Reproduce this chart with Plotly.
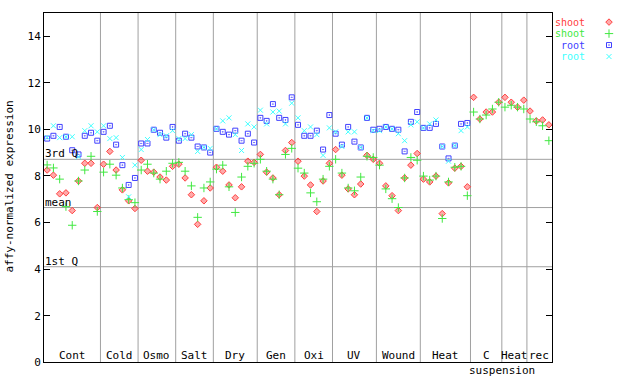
import plotly.graph_objects as go

groups = ["Cont", "Cold", "Osmo", "Salt", "Dry", "Gen", "Oxi", "UV", "Wound", "Heat", "C", "Heat", "rec"]
group_sizes = [9, 6, 6, 6, 7, 6, 6, 7, 7, 8, 5, 4, 4]

shoot_a = [8.25, 8.03, 7.23, 7.27, 6.51, 7.78, 8.54, 8.54, 6.64,
           8.50, 9.05, 8.25, 7.40, 6.93, 6.60,
           8.67, 8.20, 8.16, 7.95, 7.82, 8.41,
           8.50, 7.91, 7.19, 5.92, 6.93, 7.48,
           8.37, 8.20, 7.61, 7.06, 7.53, 8.63, 8.58,
           8.92, 8.16, 7.91, 7.19, 9.09, 9.43,
           8.63, 7.99, 7.61, 6.47, 7.78, 8.54,
           9.13, 8.03, 7.44, 7.19, 7.65, 8.88, 8.71,
           8.54, 7.57, 7.15, 6.51, 7.91, 8.46, 8.96,
           7.86, 7.74, 7.99, 6.38, 7.70, 8.33, 8.41, 7.53,
           11.37, 10.44, 10.74, 10.74, 11.16,
           11.37, 11.16, 10.95, 11.25,
           10.78, 10.36, 10.40, 10.19]

shoot_b = [8.47, 8.34, 7.86, 6.68, 5.88, 7.78, 8.25, 8.84, 6.47,
           8.16, 8.50, 8.03, 7.48, 6.98, 6.85,
           8.25, 8.50, 8.12, 7.86, 8.20, 8.54,
           8.58, 8.20, 7.57, 6.22, 7.48, 7.74,
           8.29, 8.46, 7.53, 6.43, 7.95, 8.41, 8.54,
           8.71, 8.20, 7.86, 7.19, 8.92, 9.18,
           8.33, 8.12, 7.27, 6.89, 7.86, 8.41,
           8.71, 8.12, 7.48, 7.36, 7.95, 8.84, 8.79,
           8.46, 7.44, 7.02, 6.64, 7.91, 8.79, 8.67,
           7.99, 7.82, 7.99, 6.17, 7.74, 8.37, 8.41, 7.15,
           10.74, 10.44, 10.61, 10.87, 11.16,
           10.95, 11.03, 10.95, 10.87,
           10.44, 10.32, 10.15, 9.51]

root_a = [9.60, 9.72, 10.10, 9.68, 9.10, 8.92, 9.72, 9.85, 9.51,
          9.89, 10.15, 9.34, 8.46, 7.61, 7.91,
          9.39, 9.39, 9.98, 9.85, 9.64, 10.10,
          9.51, 9.81, 9.64, 9.26, 9.22, 9.00,
          10.02, 9.89, 9.77, 9.94, 9.51, 9.81, 9.43,
          10.49, 10.36, 11.08, 10.49, 10.40, 11.37,
          10.19, 9.72, 9.72, 9.94, 9.13, 10.61,
          9.81, 9.34, 10.10, 9.47, 9.22, 10.49, 9.98,
          10.02, 10.10, 10.02, 9.98, 9.05, 10.32, 10.74,
          10.06, 10.06, 10.23, 9.26, 8.75, 9.30, 10.23, 10.27,
          None, None, None, None, None,
          None, None, None, None,
          None, None, None, None]

root_b = [9.65, 10.15, 9.64, 9.68, 9.68, 8.82, 9.94, 10.15, 9.89,
          10.15, 9.60, 9.64, 8.79, 7.10, 8.46,
          9.13, 9.56, 9.98, 9.77, 9.72, 9.94,
          9.60, 9.60, 9.77, 9.05, 9.22, 9.18,
          10.02, 10.36, 10.49, 9.77, 9.09, 10.23, 10.10,
          10.82, 10.23, 10.74, 10.78, 10.23, 11.12,
          10.49, 9.94, 10.10, 9.77, 8.88, 10.06,
          9.89, 9.26, 9.89, 9.89, 9.22, 10.49, 9.94,
          9.94, 10.10, 10.02, 9.81, 9.51, 10.19, 10.32,
          10.06, 10.23, 10.40, 9.26, 8.63, 9.30, 9.94, 10.10,
          None, None, None, None, None,
          None, None, None, None,
          None, None, None, None]

ref_lines = {"3rd Q": 8.71, "mean": 6.64, "1st Q": 4.10}
y_ticks = [0, 2, 4, 6, 8, 10, 12, 14]

n = len(shoot_a)
xs = list(range(1, n + 1))

W, H = 640, 384
L, R, T, B = 44, 552, 13, 369   # plot box in pixels
FONT = "DejaVu Sans Mono"
RED, GREEN, BLUE, CYAN = "#ff4040", "#40e840", "#4040ff", "#40ffff"


def px(xp):
    return xp / W


def py(yp):
    return (H - yp) / H


def make_marker(sym, sz, col):
    if sym == "diamond":
        return dict(symbol=sym, size=sz, color="rgba(255,64,64,0.45)",
                    line=dict(color=col, width=1))
    return dict(symbol=sym, size=sz, color=col, line=dict(color=col, width=1))


series = [
    ("shoot", shoot_a, RED, "diamond", 5),
    ("shoot", shoot_b, GREEN, "cross-thin-open", 6),
    ("root", root_a, BLUE, "square-open-dot", 5),
    ("root", root_b, CYAN, "x-thin-open", 5),
]

fig = go.Figure()
for name, vals, col, sym, sz in series:
    fig.add_trace(go.Scatter(x=xs, y=vals, mode="markers", name=name,
                             marker=make_marker(sym, sz, col),
                             showlegend=False, hoverinfo="skip"))

# legend: text left of symbol, drawn in a full-page pixel subplot
legend_y = [22.5, 34.2, 45.9, 57.6]
for i, (name, vals, col, sym, sz) in enumerate(series):
    fig.add_trace(go.Scatter(x=[609], y=[legend_y[i]], xaxis="x2", yaxis="y2",
                             mode="markers", marker=make_marker(sym, sz, col),
                             cliponaxis=False, showlegend=False, hoverinfo="skip"))
    fig.add_annotation(x=px(586), y=py(legend_y[i]), xref="paper", yref="paper",
                       text=name, showarrow=False, xanchor="right", yanchor="middle",
                       borderpad=0, font=dict(family=FONT, size=10, color=col))

shapes = []
bounds = []
c = 0
for s in group_sizes[:-1]:
    c += s
    bounds.append(c + 0.5)
for b in bounds:
    shapes.append(dict(type="line", xref="x", yref="y", x0=b, x1=b, y0=0, y1=15,
                       line=dict(color="#a0a0a0", width=1), layer="below"))
for lab, v in ref_lines.items():
    shapes.append(dict(type="line", xref="x", yref="y", x0=0.5, x1=n + 0.5, y0=v, y1=v,
                       line=dict(color="#a0a0a0", width=1), layer="below"))
    fig.add_annotation(x=0.5, y=v, xref="x", yref="y", text=lab, showarrow=False,
                       xanchor="left", yanchor="bottom", xshift=-1, yshift=-3,
                       font=dict(family=FONT, size=11, color="black"))

c = 0
for g, s in zip(groups, group_sizes):
    center = c + (s + 1) / 2
    fig.add_annotation(x=center, y=0, xref="x", yref="y", text=g, showarrow=False,
                       xanchor="center", yanchor="bottom", yshift=-1, borderpad=0,
                       font=dict(family=FONT, size=11, color="black"))
    c += s
fig.add_annotation(x=px(502), y=py(377), xref="paper", yref="paper",
                   text="suspension", showarrow=False, xanchor="center", yanchor="middle",
                   borderpad=0, font=dict(family=FONT, size=11, color="black"))

fig.add_annotation(x=px(10), y=py(190), xref="paper", yref="paper",
                   text="affy-normalized expression", textangle=-90, showarrow=False,
                   xanchor="center", yanchor="middle",
                   font=dict(family=FONT, size=11, color="black"))

fig.update_layout(
    width=W, height=H,
    margin=dict(l=0, r=0, t=0, b=0),
    paper_bgcolor="white", plot_bgcolor="rgba(0,0,0,0)",
    shapes=shapes,
    xaxis=dict(domain=[L / W, R / W], range=[0.5, n + 0.5], showticklabels=False,
               ticks="", showgrid=False, zeroline=False, showline=True,
               linecolor="black", linewidth=1, mirror=True, anchor="y"),
    yaxis=dict(domain=[(H - B) / H, (H - T) / H], range=[0, 15], tickvals=y_ticks,
               ticks="inside", ticklen=6, tickcolor="black", showgrid=False,
               zeroline=False, showline=True, linecolor="black", linewidth=1,
               mirror="ticks", anchor="x",
               tickfont=dict(family=FONT, size=11, color="black")),
    xaxis2=dict(domain=[0, 1], range=[0, W], visible=False, anchor="y2"),
    yaxis2=dict(domain=[0, 1], range=[H, 0], visible=False, anchor="x2"),
)

fig.write_html("out.html", config={"displayModeBar": False},
               post_script="document.body.style.margin='0';")
